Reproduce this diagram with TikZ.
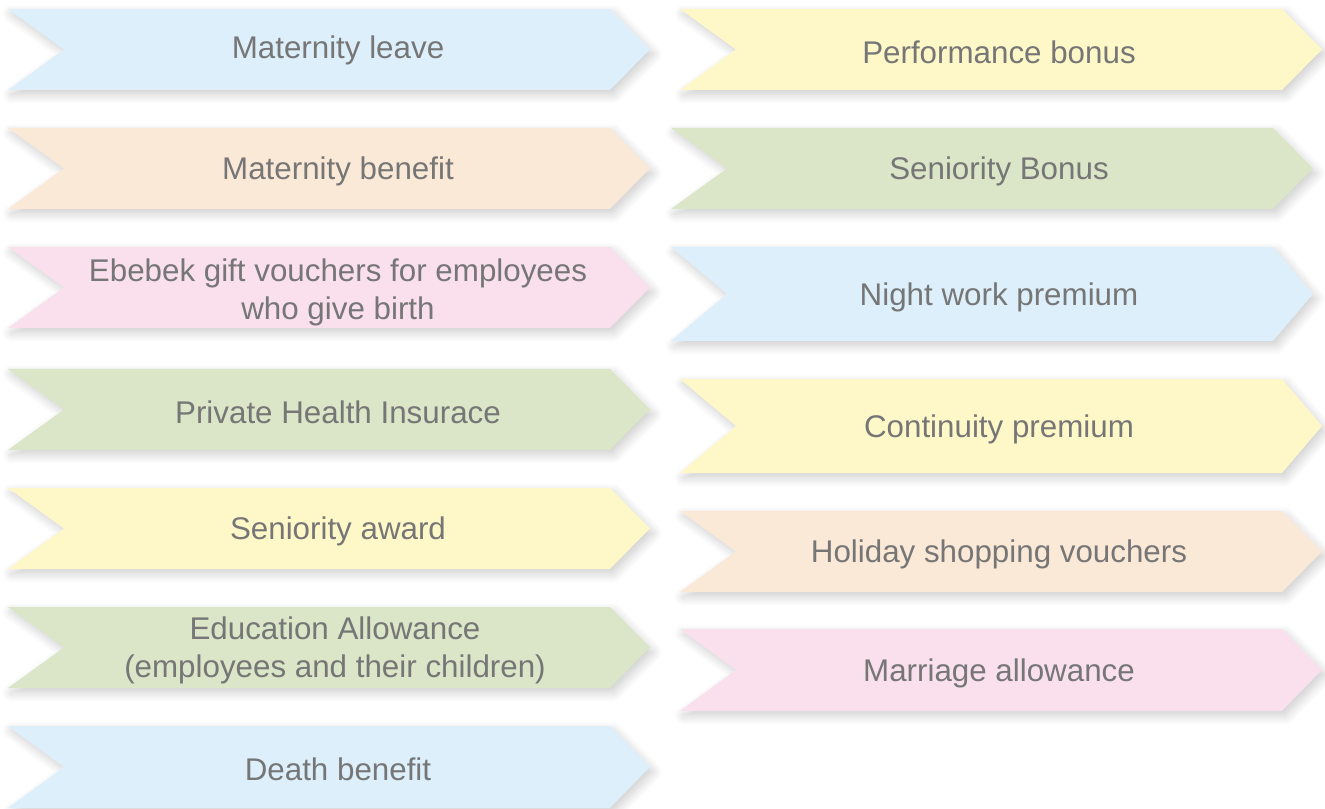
\documentclass[tikz,border=0pt]{standalone}
\usepackage{fontspec}
\setmainfont{Liberation Sans}
\usetikzlibrary{shadows.blur}

\definecolor{ribBlue}{RGB}{220,239,250}
\definecolor{ribPeach}{RGB}{251,233,215}
\definecolor{ribPink}{RGB}{249,224,236}
\definecolor{ribGreen}{RGB}{218,230,199}
\definecolor{ribYellow}{RGB}{254,248,200}
\definecolor{labGray}{RGB}{118,118,118}

\tikzset{
  ribbon/.style={blur shadow={shadow xshift=2.5pt, shadow yshift=-3.5pt,
      shadow blur radius=7pt, shadow blur steps=10, shadow opacity=20}},
  blueRib/.style={ribbon, fill=ribBlue},
  peachRib/.style={ribbon, fill=ribPeach},
  pinkRib/.style={ribbon, fill=ribPink},
  greenRib/.style={ribbon, fill=ribGreen},
  yellowRib/.style={ribbon, fill=ribYellow},
  lab/.style={text=labGray, align=center, inner sep=0pt,
      font=\fontsize{23.5}{28.5}\selectfont},
}

% notched ribbon: #1 style, #2 left x, #3 top y, #4 bottom y, #5 x where the point starts
\newcommand\ribbonshape[5]{%
  \path[#1] (#2,#3) -- (#5,#3) -- ({#5+40},{(#3+#4)/2}) -- (#5,#4) -- (#2,#4)
    -- ({#2+56},{(#3+#4)/2}) -- cycle;}

\begin{document}
\begin{tikzpicture}[x=0.75pt,y=-0.75pt]
\useasboundingbox (0,0) rectangle (1325,809);

% left column
\ribbonshape{blueRib}{8}{9}{90}{610}
\ribbonshape{peachRib}{8}{128}{209}{610}
\ribbonshape{pinkRib}{8}{247}{328}{610}
\ribbonshape{greenRib}{8}{369}{450}{610}
\ribbonshape{yellowRib}{8}{488}{569}{610}
\ribbonshape{greenRib}{8}{607}{688}{610}
\ribbonshape{blueRib}{8}{726}{808}{610}

% right column
\ribbonshape{yellowRib}{680}{9}{90}{1282}
\ribbonshape{greenRib}{671}{128}{209}{1273}
\ribbonshape{blueRib}{671}{247}{341}{1273}
\ribbonshape{yellowRib}{680}{379}{473}{1282}
\ribbonshape{peachRib}{680}{511}{592}{1282}
\ribbonshape{pinkRib}{680}{629}{711}{1282}

% labels, left column
\node[lab] (l1) at (338,50) {Maternity leave};
\node[lab] (l2) at (338,171) {Maternity benefit};
\node[lab] (l3) at (338,292) {Ebebek gift vouchers for employees\\who give birth};
\node[lab] (l4) at (338,412) {Private Health Insurace};
\node[lab] (l5) at (338,531) {Seniority award};
\node[lab] (l6) at (335,650) {Education Allowance\\(employees and their children)};
\node[lab] (l7) at (338,769) {Death benefit};

% labels, right column
\node[lab] (r1) at (999,52) {Performance bonus};
\node[lab] (r2) at (999,171) {Seniority Bonus};
\node[lab] (r3) at (999,297) {Night work premium};
\node[lab] (r4) at (999,429) {Continuity premium};
\node[lab] (r5) at (999,554) {Holiday shopping vouchers};
\node[lab] (r6) at (999,673) {Marriage allowance};
\end{tikzpicture}
\end{document}
